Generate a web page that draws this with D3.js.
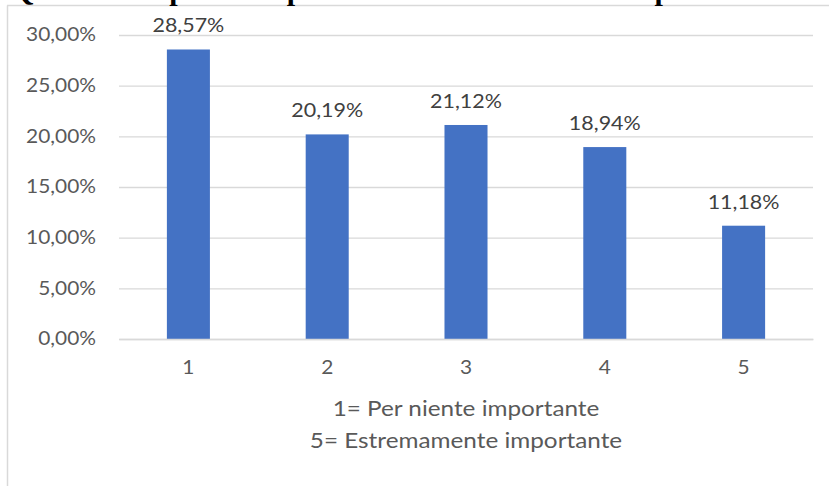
<!DOCTYPE html>
<html>
<head>
<meta charset="utf-8">
<script src="https://cdn.jsdelivr.net/npm/d3@7"></script>
<style>
  body { margin: 0; background: #fff; }
  svg { display: block; }
</style>
</head>
<body>
<div id="chart"></div>
<script>
const categories = ["1", "2", "3", "4", "5"]
const values = [28.57, 20.19, 21.12, 18.94, 11.18]
const yTicks = [0, 5, 10, 15, 20, 25, 30]
const titleText = "Quanto è importante per te la sostenibilità nel tuo prodotto?"
const axisTitle = ["1= Per niente importante", "5= Estremamente importante"]

const W = 829, H = 487
const PLOT = {LEFT: 119, RIGHT: 813, TOP: 35, BOTTOM: 339}
const FONT = "Lato, 'Liberation Sans', sans-serif"
const TEXT = "#595959"
const STRETCH = 1.13 // the source text is a bit wider than Lato

// widen a text horizontally around its own x anchor
function stretch(sel) {
  sel.each(function() {
    const ax = +(this.getAttribute("x") || 0)
    d3.select(this).attr("transform",
      `translate(${ax},0) scale(${STRETCH},1) translate(${-ax},0)`)
  })
}

const svg = d3.select("#chart").append("svg")
  .attr("width", W)
  .attr("height", H)

// chart frame (only left and top edges are visible in the crop)
svg.append("line")
  .attr("x1", 7.5).attr("x2", 7.5).attr("y1", 5.5).attr("y2", 486)
  .attr("stroke", "#d9d9d9").attr("stroke-width", 1.5)
svg.append("line")
  .attr("x1", 7).attr("x2", W).attr("y1", 5.5).attr("y2", 5.5)
  .attr("stroke", "#d9d9d9").attr("stroke-width", 1.5)

// title, mostly cut off by the top of the picture
svg.append("text")
  .attr("x", 11)
  .attr("y", 0)
  .attr("font-family", "'Liberation Serif', serif")
  .attr("font-weight", "bold")
  .attr("font-size", 30)
  .attr("fill", "#000")
  .text(titleText)

// scales
const x = d3.scaleBand()
  .domain(categories)
  .range([PLOT.LEFT, PLOT.RIGHT])
  .paddingInner(0.69)
  .paddingOuter(0.345)

const y = d3.scaleLinear()
  .domain([0, 30])
  .range([PLOT.BOTTOM, PLOT.TOP])

const pct = d => d3.format(".2f")(d).replace(".", ",") + "%"

// gridlines + y labels
const yAxis = d3.axisLeft(y)
  .tickValues(yTicks)
  .tickSize(-(PLOT.RIGHT - PLOT.LEFT))
  .tickPadding(23)
  .tickFormat(pct)

const yg = svg.append("g")
  .attr("transform", `translate(${PLOT.LEFT}, 0)`)
  .call(yAxis)
yg.select(".domain").remove()
yg.selectAll(".tick line").attr("stroke", "#d9d9d9").attr("stroke-width", 1.3)
yg.selectAll(".tick text")
  .attr("fill", TEXT)
  .attr("font-family", FONT)
  .attr("font-size", 18.5)
  .call(stretch)

// bars
svg.selectAll("rect.bar")
  .data(values)
  .enter()
  .append("rect")
  .attr("class", "bar")
  .attr("x", (d, i) => x(categories[i]))
  .attr("width", x.bandwidth())
  .attr("y", d => y(d))
  .attr("height", d => y(0) - y(d))
  .attr("fill", "#4472C4")

// value labels
svg.selectAll("text.val")
  .data(values)
  .enter()
  .append("text")
  .attr("class", "val")
  .attr("x", (d, i) => x(categories[i]) + x.bandwidth() / 2)
  .attr("y", d => y(d) - 17)
  .attr("text-anchor", "middle")
  .attr("fill", "#404040")
  .attr("font-family", FONT)
  .attr("font-size", 19)
  .text(pct)
  .call(stretch)

// x axis
const xAxis = d3.axisBottom(x).tickSize(0).tickPadding(22)
const xg = svg.append("g")
  .attr("transform", `translate(0, ${PLOT.BOTTOM})`)
  .call(xAxis)
xg.select(".domain").attr("stroke", "#d9d9d9").attr("stroke-width", 1.3)
xg.selectAll(".tick text")
  .attr("fill", TEXT)
  .attr("font-family", FONT)
  .attr("font-size", 18.5)
  .call(stretch)

// axis title
const cx = (PLOT.LEFT + PLOT.RIGHT) / 2
svg.append("text")
  .attr("x", cx)
  .attr("text-anchor", "middle")
  .attr("fill", TEXT)
  .attr("font-family", FONT)
  .attr("font-size", 21.5)
  .call(stretch)
  .selectAll("tspan")
  .data(axisTitle)
  .enter()
  .append("tspan")
  .attr("x", cx)
  .attr("y", (d, i) => 416 + i * 32)
  .text(d => d)
</script>
</body>
</html>
